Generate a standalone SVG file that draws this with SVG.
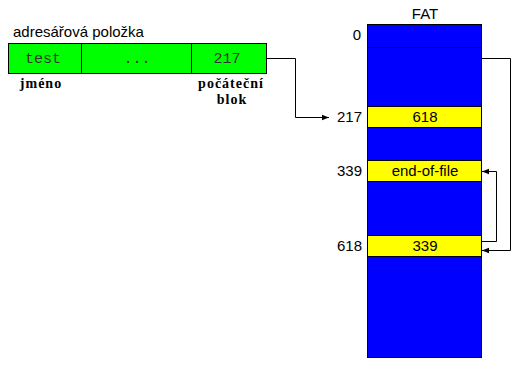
<svg xmlns="http://www.w3.org/2000/svg" width="516" height="365" viewBox="0 0 516 365">
<style>
.s{font-family:"Liberation Sans",Arial,sans-serif;font-size:15px;fill:#000}
.m{font-family:"Liberation Mono","Courier New",monospace;font-size:15px;fill:#333}
.b{font-family:"Liberation Serif","Times New Roman",serif;font-size:14px;font-weight:bold;fill:#000;letter-spacing:1px}
.c{fill:none;stroke:#000;stroke-width:1}
</style>
<defs>
<marker id="a" viewBox="0 0 10 10" refX="10" refY="5" markerWidth="7" markerHeight="7" orient="auto" markerUnits="userSpaceOnUse">
<path d="M0,1 L10,5 L0,9 z" fill="#000"/>
</marker>
</defs>
<rect width="516" height="365" fill="#fff"/>
<g id="entry">
<text class="s" x="13" y="37">adresářová položka</text>
<rect x="8.5" y="43.5" width="258" height="30" fill="#00ff00" stroke="#000"/>
<line x1="81.5" y1="43.5" x2="81.5" y2="73.5" stroke="#000"/>
<line x1="191.5" y1="43.5" x2="191.5" y2="73.5" stroke="#000"/>
<text class="m" x="43" y="63" text-anchor="middle">test</text>
<text class="m" x="137" y="63" text-anchor="middle">...</text>
<text class="m" x="227" y="63" text-anchor="middle">217</text>
<text class="b" x="41" y="88" text-anchor="middle">jméno</text>
<text class="b" x="231" y="88" text-anchor="middle">počáteční</text>
<text class="b" x="232" y="104" text-anchor="middle">blok</text>
</g>
<g id="fat">
<text class="s" x="425" y="19" text-anchor="middle">FAT</text>
<rect x="367.5" y="24.5" width="114" height="333" fill="#0000ff" stroke="#000"/>
<line x1="367.5" y1="47.5" x2="481.5" y2="47.5" stroke="#000"/>
<text class="s" x="361" y="40" text-anchor="end">0</text>
</g>
<g id="cell217">
<rect x="367.5" y="106.5" width="114" height="21" fill="#ffff00" stroke="#000"/>
<text class="s" x="425" y="122" text-anchor="middle">618</text>
<text class="s" x="362" y="122" text-anchor="end">217</text>
</g>
<g id="cell339">
<rect x="367.5" y="160.5" width="114" height="21" fill="#ffff00" stroke="#000"/>
<text class="s" x="425" y="176" text-anchor="middle">end-of-file</text>
<text class="s" x="362" y="176" text-anchor="end">339</text>
</g>
<g id="cell618">
<rect x="367.5" y="235.5" width="114" height="21" fill="#ffff00" stroke="#000"/>
<text class="s" x="425" y="251" text-anchor="middle">339</text>
<text class="s" x="362" y="251" text-anchor="end">618</text>
</g>
<g id="connectors">
<polyline class="c" points="266.5,58.5 295.5,58.5 295.5,117.5 329,117.5" marker-end="url(#a)"/>
<polyline class="c" points="481.5,58.5 510.5,58.5 510.5,250.5 482,250.5" marker-end="url(#a)"/>
<polyline class="c" points="481.5,241.5 496.5,241.5 496.5,171.5 482,171.5" marker-end="url(#a)"/>
</g>
</svg>
